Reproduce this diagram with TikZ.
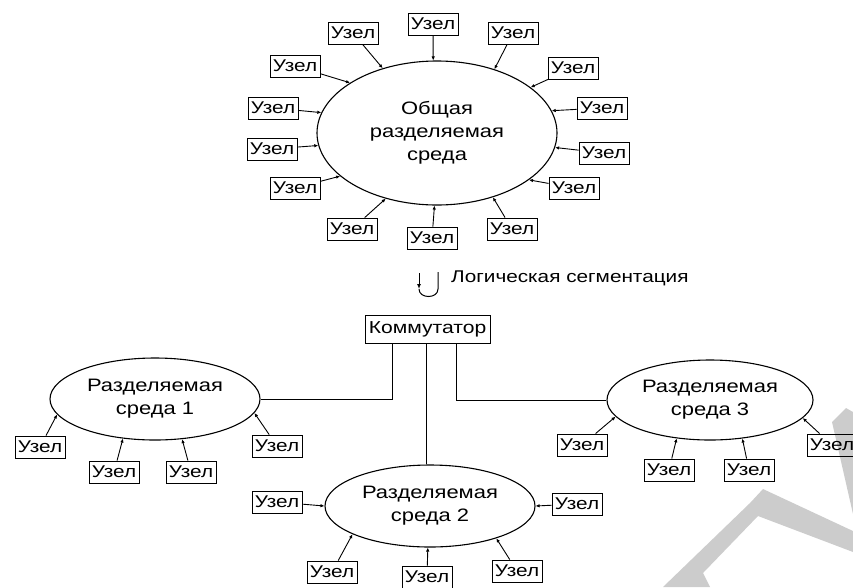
\documentclass[tikz,border=0pt]{standalone}
\usepackage{fontspec}
\setmainfont{Liberation Sans}
\newfontfamily\wf[FakeStretch=1.22]{Liberation Sans}
\usetikzlibrary{arrows.meta,shapes.geometric}
\begin{document}
\begin{tikzpicture}[x=1pt,y=-1pt,
  uz/.style={draw, line width=0.9pt, font=\wf\fontsize{17}{17}\selectfont, minimum width=50pt, minimum height=22pt, inner sep=1pt},
  env/.style={draw, ellipse, line width=1.1pt, inner sep=0pt, align=center, font=\wf\fontsize{18}{23}\selectfont},
  lk/.style={line width=0.9pt, -{Latex[length=4pt,width=3.5pt]}},
  wire/.style={line width=1pt},
  scanmark/.style={fill=black!20, draw=none}
]
\useasboundingbox (0,0) rectangle (853,587);
% scan marks
\fill[scanmark] (832,422) -- (846,408) -- (853,412) -- (853,514) -- cycle;
\fill[scanmark] (663,587) -- (750,503) -- (763,489) -- (853,531) -- (853,552) -- (758,516) -- (703,573) -- (710,587) -- cycle;

% top shared medium
\node[env, minimum width=240pt, minimum height=144pt] (E0) at (437,133) {Общая\\разделяемая\\среда};
\node[uz] (t1) at (433,24) {Узел};
\node[uz] (t2) at (353,33) {Узел};
\node[uz] (t3) at (513,33) {Узел};
\node[uz] (t4) at (295,66) {Узел};
\node[uz] (t5) at (573,68) {Узел};
\node[uz] (t6) at (273,108) {Узел};
\node[uz] (t7) at (602,108) {Узел};
\node[uz] (t8) at (272,149) {Узел};
\node[uz] (t9) at (604,153) {Узел};
\node[uz] (t10) at (295,188) {Узел};
\node[uz] (t11) at (574,188) {Узел};
\node[uz] (t12) at (352,229) {Узел};
\node[uz] (t13) at (432,238) {Узел};
\node[uz] (t14) at (512,229) {Узел};
\foreach \n/\a in {t1/93,t2/130,t3/48,t4/150,t5/26,t6/170,t7/11,t8/186,t9/353,t10/204,t11/333,t12/232,t13/268,t14/311}
  \draw[lk] (\n) -- (E0.\a);

% segmentation symbol
\coordinate (sL) at (419,273);
\coordinate (sR) at (438,272);
\coordinate (sLb) at (419,289);
\coordinate (sRb) at (438,289);
\draw[line width=1pt] (sR) -- (sRb) .. controls (438,299) and (419,299) .. (sLb);
\draw[line width=1pt, -{Latex[length=5pt,width=4pt]}] (sL) -- (sLb);
\node[anchor=west, inner sep=0pt, font=\wf\fontsize{17}{17}\selectfont] (lab) at (451,278) {Логическая сегментация};

% switch
\node[draw, line width=0.9pt, minimum width=125pt, minimum height=28pt, inner sep=1pt, font=\wf\fontsize{17.3}{17.3}\selectfont] (K) at (427.5,329) {Коммутатор};

% segments
\node[env, minimum width=210pt, minimum height=82pt] (E1) at (155,399) {Разделяемая\\среда 1};
\node[env, minimum width=210pt, minimum height=82pt] (E2) at (430,506) {Разделяемая\\среда 2};
\node[env, minimum width=206pt, minimum height=80pt] (E3) at (710,400) {Разделяемая\\среда 3};

\coordinate (x1) at (392,0);
\coordinate (x2) at (426,0);
\coordinate (x3) at (456,0);
\draw[wire] (K.south -| x1) |- (E1.east);
\draw[wire] (K.south -| x2) -- (E2.north -| x2);
\draw[wire] (K.south -| x3) |- (E3.west);

\node[uz] (a1) at (40,447) {Узел};
\node[uz] (a2) at (114,472) {Узел};
\node[uz] (a3) at (191,472) {Узел};
\node[uz] (a4) at (277,446) {Узел};
\foreach \n/\a in {a1/189,a2/231,a3/304,a4/352}
  \draw[lk] (\n) -- (E1.\a);

\node[uz] (b1) at (277,502) {Узел};
\node[uz] (b2) at (577,504) {Узел};
\node[uz] (b3) at (332,572) {Узел};
\node[uz] (b4) at (427,577) {Узел};
\node[uz] (b5) at (517,571) {Узел};
\foreach \n/\a in {b1/180,b2/0,b3/200,b4/267,b5/334}
  \draw[lk] (\n) -- (E2.\a);

\node[uz] (c1) at (582,445) {Узел};
\node[uz] (c2) at (669,470) {Узел};
\node[uz] (c3) at (749,470) {Узел};
\node[uz] (c4) at (832,445) {Узел};
\foreach \n/\a in {c1/190,c2/229,c3/310,c4/349}
  \draw[lk] (\n) -- (E3.\a);
\end{tikzpicture}
\end{document}
